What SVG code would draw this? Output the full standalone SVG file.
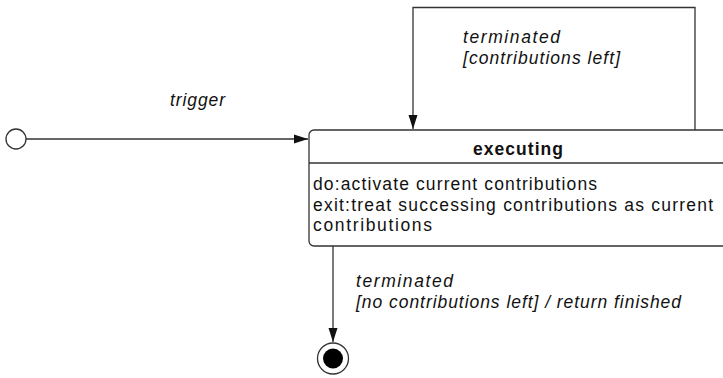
<svg xmlns="http://www.w3.org/2000/svg" width="723" height="378" viewBox="0 0 723 378">
<style>
  .ln { fill: none; stroke: #333; stroke-width: 1.3; }
  .t { font-family: "Liberation Sans", Arial, sans-serif; font-size: 17.5px; fill: #111; }
  .it { font-style: italic; }
  .b { font-weight: bold; }
</style>
<defs>
  <marker id="arr" viewBox="0 0 14 10" refX="14" refY="5" markerWidth="14" markerHeight="10" markerUnits="userSpaceOnUse" orient="auto">
    <path d="M0,0.5 L14,5 L0,9.5 z" fill="#111"/>
  </marker>
</defs>
<rect width="723" height="378" fill="#fff"/>
<g id="connectors">
  <line class="ln" x1="26" y1="139" x2="308" y2="139" marker-end="url(#arr)"/>
  <polyline class="ln" points="695,130 695,7.5 413,7.5 413,129" marker-end="url(#arr)"/>
  <line class="ln" x1="333" y1="246" x2="333" y2="342" marker-end="url(#arr)"/>
  <text class="t it" x="170" y="106" textLength="55">trigger</text>
  <text class="t it" x="463" y="43" textLength="97">terminated</text>
  <text class="t it" x="463" y="64" textLength="157">[contributions left]</text>
  <text class="t it" x="356" y="287" textLength="97">terminated</text>
  <text class="t it" x="356" y="308" textLength="325">[no contributions left] / return finished</text>
</g>
<g id="initial">
  <circle cx="16" cy="139" r="10" fill="#fff" stroke="#333" stroke-width="1.3"/>
</g>
<g id="executing">
  <rect x="309" y="130" width="420" height="116" rx="5" fill="#fff" stroke="#333" stroke-width="1.3"/>
  <line class="ln" x1="309" y1="163" x2="723" y2="163"/>
  <text class="t b" x="473" y="155" textLength="90">executing</text>
  <text class="t" x="313" y="190" textLength="284">do:activate current contributions</text>
  <text class="t" x="313" y="211" textLength="400">exit:treat successing contributions as current</text>
  <text class="t" x="313" y="231" textLength="119">contributions</text>
</g>
<g id="final">
  <circle cx="333" cy="358.5" r="15.5" fill="#fff" stroke="#333" stroke-width="1.3"/>
  <circle cx="333" cy="358.5" r="10" fill="#000"/>
</g>
</svg>
